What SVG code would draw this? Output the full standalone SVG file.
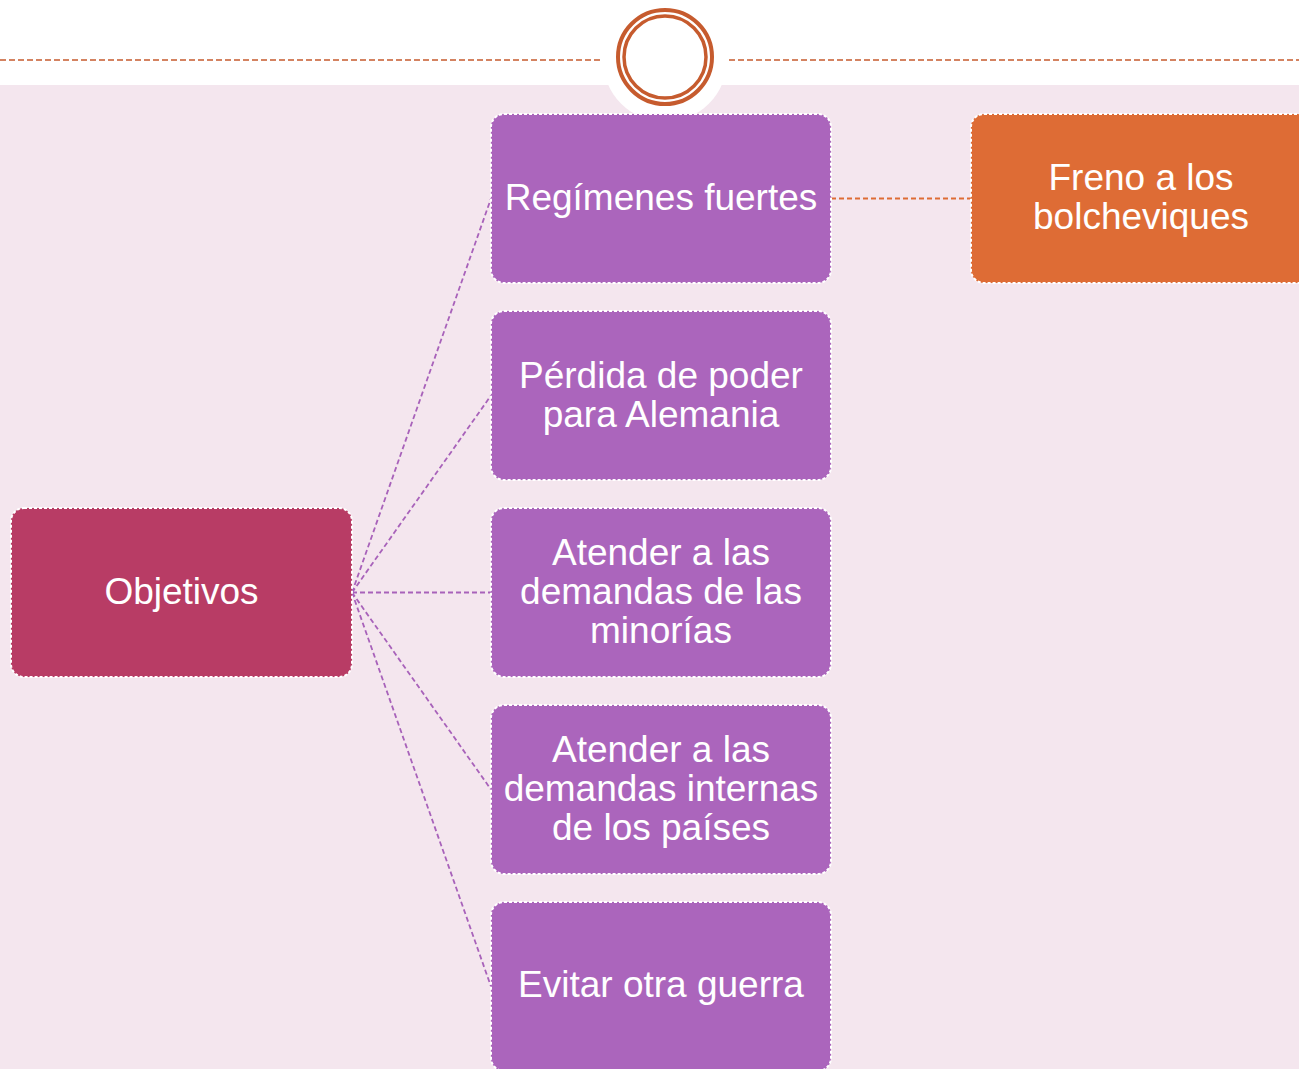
<svg xmlns="http://www.w3.org/2000/svg" width="1299" height="1069" viewBox="0 0 1299 1069">
<style>
.box{stroke:#FFFFFF;stroke-width:2;stroke-dasharray:3 2}
.purple{fill:#AB65BC}
.red{fill:#B83C65}
.orange{fill:#DE6C35}
.lbl{font-family:"Liberation Sans",Arial,sans-serif;font-size:37px;fill:#FFFFFF;text-anchor:middle}
.cp{stroke:#A862BA;stroke-width:1.8;stroke-dasharray:5 3;fill:none}
.co{stroke:#DE6C35;stroke-width:1.8;stroke-dasharray:5 3;fill:none}
</style>
<rect x="0" y="0" width="1299" height="1069" fill="#FFFFFF"/>
<rect x="0" y="85" width="1299" height="984" fill="#F4E6EE"/>
<circle cx="665" cy="60" r="62" fill="#FFFFFF"/>
<g id="header">
<line x1="0" y1="60" x2="601" y2="60" stroke="#C65B2E" stroke-width="1.6" stroke-dasharray="6 3"/>
<line x1="729" y1="60" x2="1299" y2="60" stroke="#C65B2E" stroke-width="1.6" stroke-dasharray="6 3"/>
<circle cx="665" cy="57" r="47" fill="none" stroke="#C65B2E" stroke-width="4"/>
<circle cx="665" cy="57" r="41" fill="none" stroke="#C65B2E" stroke-width="3.5"/>
</g>
<g id="connectors">
<line class="cp" x1="352" y1="592.5" x2="491" y2="198.5"/>
<line class="cp" x1="352" y1="592.5" x2="491" y2="395.5"/>
<line class="cp" x1="352" y1="592.5" x2="491" y2="592.5"/>
<line class="cp" x1="352" y1="592.5" x2="491" y2="789.5"/>
<line class="cp" x1="352" y1="592.5" x2="491" y2="986.5"/>
<line class="co" x1="831" y1="198.5" x2="971" y2="198.5"/>
</g>
<g id="objetivos">
<rect class="box red" x="11" y="508" width="341" height="169" rx="13"/>
<text class="lbl" x="181.5" y="604">Objetivos</text>
</g>
<g id="regimenes">
<rect class="box purple" x="491" y="114" width="340" height="169" rx="13"/>
<text class="lbl" x="661" y="210">Regímenes fuertes</text>
</g>
<g id="perdida">
<rect class="box purple" x="491" y="311" width="340" height="169" rx="13"/>
<text class="lbl" x="661" y="388">Pérdida de poder<tspan x="661" dy="39">para Alemania</tspan></text>
</g>
<g id="minorias">
<rect class="box purple" x="491" y="508" width="340" height="169" rx="13"/>
<text class="lbl" x="661" y="565">Atender a las<tspan x="661" dy="39">demandas de las</tspan><tspan x="661" dy="39">minorías</tspan></text>
</g>
<g id="internas">
<rect class="box purple" x="491" y="705" width="340" height="169" rx="13"/>
<text class="lbl" x="661" y="762">Atender a las<tspan x="661" dy="39">demandas internas</tspan><tspan x="661" dy="39">de los países</tspan></text>
</g>
<g id="guerra">
<rect class="box purple" x="491" y="902" width="340" height="169" rx="13"/>
<text class="lbl" x="661" y="997">Evitar otra guerra</text>
</g>
<g id="freno">
<rect class="box orange" x="971" y="114" width="340" height="169" rx="13"/>
<text class="lbl" x="1141" y="190">Freno a los<tspan x="1141" dy="39">bolcheviques</tspan></text>
</g>
</svg>
